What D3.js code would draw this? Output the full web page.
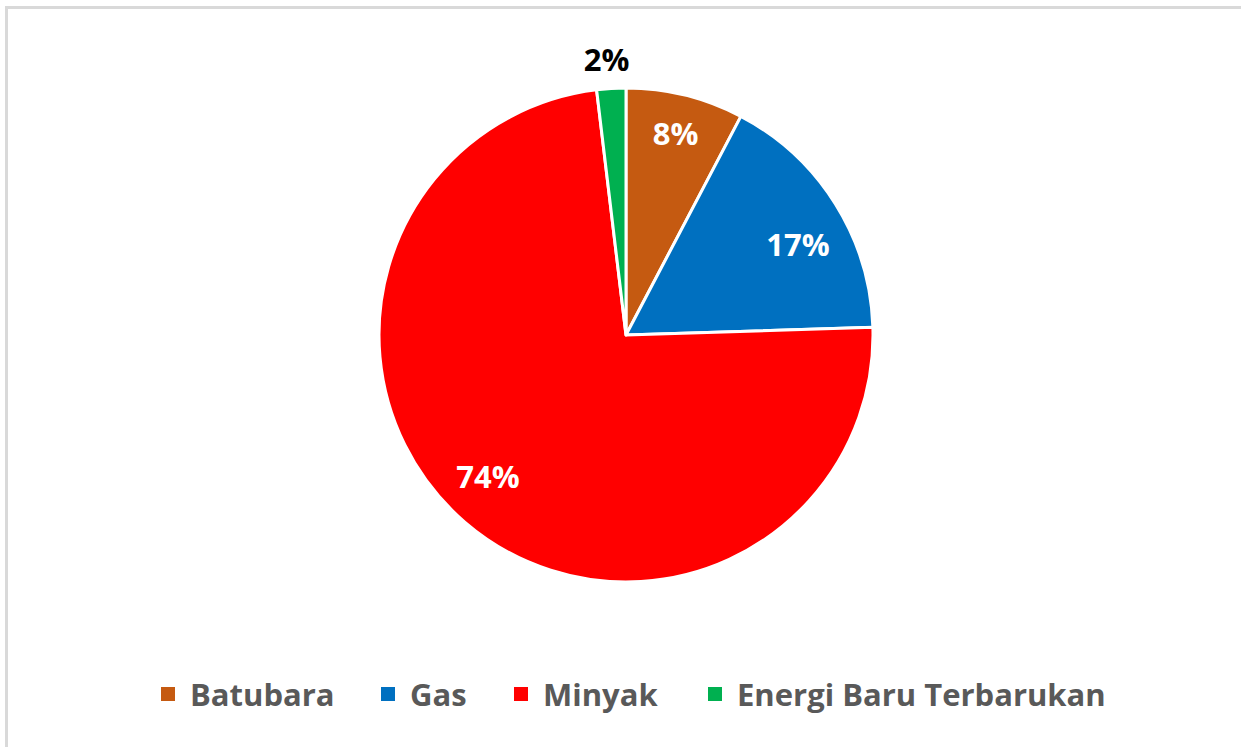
<!DOCTYPE html>
<html>
<head>
<meta charset="utf-8">
<script src="https://cdn.jsdelivr.net/npm/d3@7"></script>
<style>
  body { margin: 0; background: #fff; }
  svg { display: block; font-family: "Open Sans", sans-serif; }
</style>
</head>
<body>
<div class="graph"></div>
<script>
const categories = ["Batubara", "Gas", "Minyak", "Energi Baru Terbarukan"];
const shares = [7.7, 16.8, 73.6, 1.9];
const labels = ["8%", "17%", "74%", "2%"];
const colors = ["#C55A11", "#0070C0", "#FF0000", "#00B050"];

const width = 1241, height = 747;
const cx = 626, cy = 335, radius = 247;

// where each data label sits (radius from centre, small angle nudge in degrees)
const labelRadius = [207, 194, 198, 276];
const labelNudge = [0, 4.5, 3.5, -0.6];

const svg = d3.select(".graph").append("svg")
  .attr("width", width)
  .attr("height", height);

// chart frame
svg.append("path")
  .attr("d", "M6.5," + height + " V7.5 H" + width)
  .attr("fill", "none")
  .attr("stroke", "#d9d9d9")
  .attr("stroke-width", 3);

const data = categories.map((c, i)=>{ return {name: c, value: shares[i], label: labels[i], color: colors[i]}; });

const pie = d3.pie().sort(null).value(d => d.value);
const arc = d3.arc().innerRadius(0).outerRadius(radius);

const g = svg.append("g")
  .attr("transform", "translate(" + cx + "," + cy + ")");

const arcs = pie(data);

g.selectAll("path.slice")
    .data(arcs)
  .enter().append("path")
    .attr("class", "slice")
    .attr("d", arc)
    .attr("fill", d => d.data.color)
    .attr("stroke", "#fff")
    .attr("stroke-width", 3)
    .attr("stroke-linejoin", "round");

g.selectAll("text.lbl")
    .data(arcs)
  .enter().append("text")
    .attr("class", "lbl")
    .attr("transform", (d, i) => {
      const a = (d.startAngle + d.endAngle) / 2 + labelNudge[i] * Math.PI / 180;
      const r = labelRadius[i];
      return "translate(" + (r * Math.sin(a)) + "," + (-r * Math.cos(a)) + ")";
    })
    .attr("text-anchor", "middle")
    .attr("dy", "0.35em")
    .attr("font-size", 31)
    .attr("font-weight", "bold")
    .attr("fill", d => d.data.value < 4 ? "#000" : "#fff")
    .text(d => d.data.label);

// legend
const legendX = [161, 381, 514, 708];
const legend = svg.append("g").attr("class", "legend");
const items = legend.selectAll("g")
    .data(data)
  .enter().append("g")
    .attr("transform", (d, i) => "translate(" + legendX[i] + ",687)");

items.append("rect")
  .attr("width", 14)
  .attr("height", 14)
  .attr("fill", d => d.color);

items.append("text")
  .attr("x", 29)
  .attr("y", 19)
  .attr("font-size", 31)
  .attr("font-weight", "bold")
  .attr("fill", "#595959")
  .text(d => d.name);
</script>
</body>
</html>
